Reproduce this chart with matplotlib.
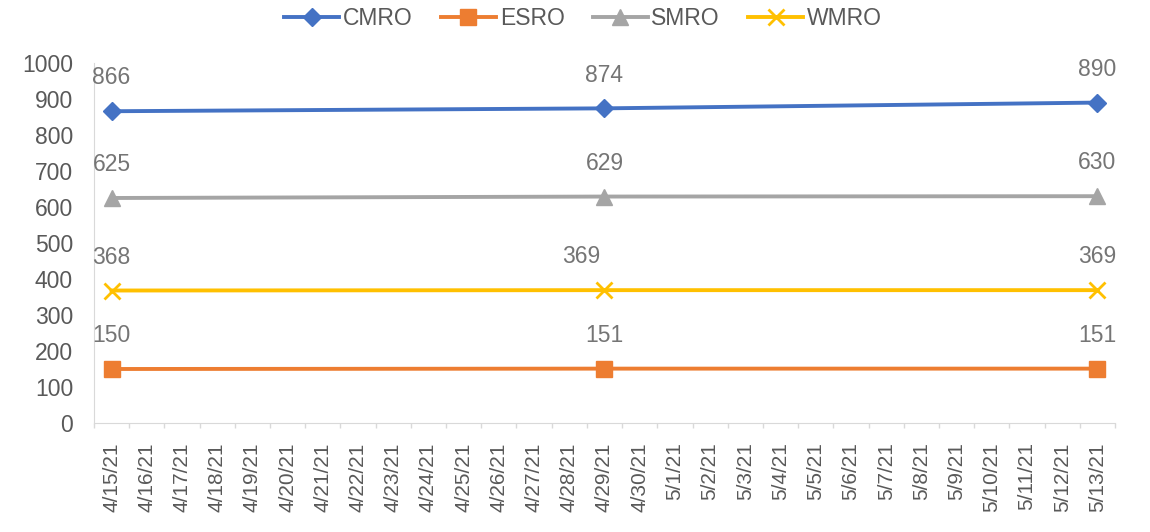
import numpy as np
import matplotlib.pyplot as plt

plt.rcParams['font.family'] = ['Liberation Sans', 'DejaVu Sans']

dates = ['4/15/21', '4/16/21', '4/17/21', '4/18/21', '4/19/21', '4/20/21', '4/21/21',
         '4/22/21', '4/23/21', '4/24/21', '4/25/21', '4/26/21', '4/27/21', '4/28/21',
         '4/29/21', '4/30/21', '5/1/21', '5/2/21', '5/3/21', '5/4/21', '5/5/21',
         '5/6/21', '5/7/21', '5/8/21', '5/9/21', '5/10/21', '5/11/21', '5/12/21', '5/13/21']
obs_dates = ['4/15/21', '4/29/21', '5/13/21']
cmro = [866, 874, 890]
esro = [150, 151, 151]
smro = [625, 629, 630]
wmro = [368, 369, 369]

series = [('CMRO', cmro, '#4472C4', 'D', 9),
          ('ESRO', esro, '#ED7D31', 's', 11),
          ('SMRO', smro, '#A5A5A5', '^', 11),
          ('WMRO', wmro, '#FFC000', 'x', 12)]

xpos = [dates.index(d) for d in obs_dates]

fig = plt.figure(figsize=(11.5, 5.32), dpi=100)
ax = fig.add_axes([0.0817, 0.2049, 0.8879, 0.6767])

for name, vals, col, mk, ms in series:
    ax.plot(xpos, vals, color=col, lw=2.8, marker=mk, ms=ms,
            mew=2 if mk == 'x' else 1, label=name)
    for i, (x, v) in enumerate(zip(xpos, vals)):
        dx = 0
        if name == 'WMRO' and i == 1:
            dx = -17
        ax.annotate(str(v), (x, v), xytext=(dx, 24), textcoords='offset points',
                    ha='center', va='center', fontsize=16.5, color='#757575')

ax.set_xlim(-0.5, len(dates) - 0.5)
ax.set_ylim(0, 1000)
ax.set_yticks(np.arange(0, 1001, 100))
ax.set_xticks(range(len(dates)))
ax.set_xticklabels(dates, rotation=90, va='top')
ax.set_xticks(np.arange(-0.5, len(dates), 1), minor=True)
ax.tick_params(axis='x', which='major', length=0, pad=14, labelsize=15, labelcolor='#595959')
ax.tick_params(axis='x', which='minor', length=3.6, color='#d9d9d9', width=1)
ax.tick_params(axis='y', length=0, pad=15, labelsize=16.5, labelcolor='#595959')

for s in ['top', 'right']:
    ax.spines[s].set_visible(False)
ax.spines['left'].set_color('#d9d9d9')
ax.spines['bottom'].set_color('#d9d9d9')

fig.legend(loc='center', bbox_to_anchor=(0.507, 0.966), ncol=4, frameon=False,
           fontsize=16.5, labelcolor='#595959', handlelength=2.4, columnspacing=1.22,
           handletextpad=0.17, borderpad=0)

fig.savefig('out.png', dpi=100)
